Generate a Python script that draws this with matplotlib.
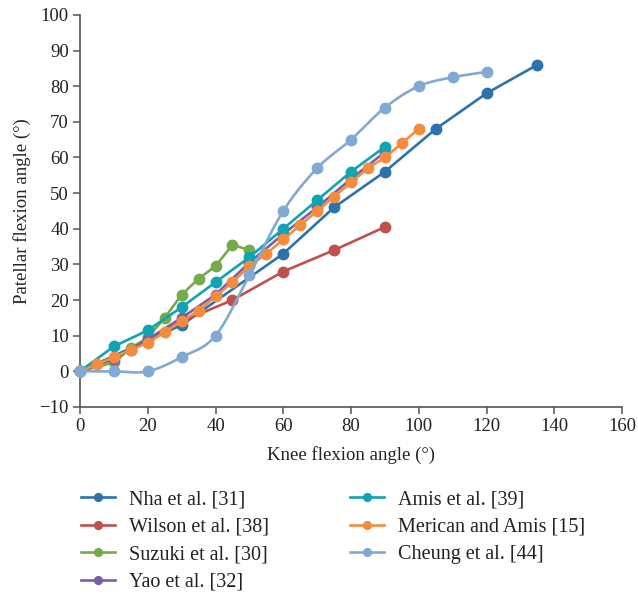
import numpy as np
import matplotlib.pyplot as plt

plt.rcParams['font.family'] = ['Liberation Serif', 'DejaVu Serif']

# knee flexion (deg) vs patellar flexion (deg), per study
nha_x = [0, 30, 60, 75, 90, 105, 120, 135]
nha_y = [0, 13, 33, 46, 56, 68, 78, 86]

wilson_x = [0, 15, 30, 45, 60, 75, 90]
wilson_y = [0, 6, 14, 20, 28, 34, 40.5]

suzuki_x = [0, 10, 15, 20, 25, 30, 35, 40, 45, 50]
suzuki_y = [0, 2.5, 6.5, 9.5, 15, 21.5, 26, 29.5, 35.5, 34]

yao_x = [0, 10, 20, 30, 40, 50, 60, 70, 80, 90]
yao_y = [0, 3.5, 9, 15, 21.5, 30.5, 38.5, 46, 54, 61.5]

amis_x = [0, 10, 20, 30, 40, 50, 60, 70, 80, 90]
amis_y = [0, 7, 11.5, 18, 25, 32, 40, 48, 56, 63]

merican_x = [0, 5, 10, 15, 20, 25, 30, 35, 40, 45, 50, 55, 60, 65, 70, 75, 80, 85, 90, 95, 100]
merican_y = [0, 2, 4, 6, 8, 11, 14, 17, 21, 25, 29.5, 33, 37, 41, 45, 49, 53, 57, 60, 64, 68]

cheung_x = [0, 10, 20, 30, 40, 50, 60, 70, 80, 90, 100, 110, 120]
cheung_y = [0, 0, 0, 4, 10, 27, 45, 57, 65, 74, 80, 82.5, 84]

labels = ["Nha et al. [31]", "Wilson et al. [38]", "Suzuki et al. [30]", "Yao et al. [32]",
          "Amis et al. [39]", "Merican and Amis [15]", "Cheung et al. [44]"]
colors = ["#2c72ad", "#c0504d", "#74ab4b", "#7b5fa5", "#10a3b3", "#f58b3e", "#80a9d3"]


def smooth(x, y, n=20):
    # Catmull-Rom curve through the points (like a spreadsheet "smoothed line")
    p = np.column_stack([x, y]).astype(float)
    p = np.vstack([p[0], p, p[-1]])
    out = []
    t = np.linspace(0, 1, n, endpoint=False)[:, None]
    for i in range(1, len(p) - 2):
        p0, p1, p2, p3 = p[i - 1], p[i], p[i + 1], p[i + 2]
        m1 = (p2 - p0) / 2
        m2 = (p3 - p1) / 2
        h00 = 2 * t**3 - 3 * t**2 + 1
        h10 = t**3 - 2 * t**2 + t
        h01 = -2 * t**3 + 3 * t**2
        h11 = t**3 - t**2
        out.append(h00 * p1 + h10 * m1 + h01 * p2 + h11 * m2)
    out.append(p[-2][None, :])
    out = np.vstack(out)
    return out[:, 0], out[:, 1]


series = [(nha_x, nha_y), (wilson_x, wilson_y), (suzuki_x, suzuki_y), (yao_x, yao_y),
          (amis_x, amis_y), (merican_x, merican_y), (cheung_x, cheung_y)]

fig = plt.figure(figsize=(6.38, 5.95), dpi=100)
ax = fig.add_axes([0.1254, 0.316, 0.8496, 0.659])

for i, ((x, y), lab, c) in enumerate(zip(series, labels, colors)):
    if lab.startswith("Cheung"):
        sx, sy = smooth(x, y)
        ax.plot(sx, sy, color=c, lw=1.9, zorder=2 + i, clip_on=False)
        ax.plot(x, y, 'o', color=c, ms=7.5, zorder=2 + i, clip_on=False)
        ax.plot([], [], '-o', color=c, lw=1.9, ms=7.5, label=lab)
    else:
        ax.plot(x, y, '-o', color=c, lw=1.9, ms=7.5, label=lab, zorder=2 + i, clip_on=False)

ax.set_xlim(0, 160)
ax.set_ylim(-10, 100)
ax.set_xticks(np.arange(0, 161, 20))
ax.set_yticks(np.arange(-10, 101, 10))
ax.set_yticklabels([str(v).replace('-', '\u2212') for v in range(-10, 101, 10)])
for s in ['top', 'right']:
    ax.spines[s].set_visible(False)
for s in ['left', 'bottom']:
    ax.spines[s].set_color('#555555')
    ax.spines[s].set_linewidth(1.2)
ax.tick_params(direction='out', length=5, width=1.1, color='#555555',
               labelsize=13.5, labelcolor='#222222', pad=3)

ax.set_xlabel("Knee flexion angle (°)", fontsize=13.5, color='#222222', labelpad=8)
ax.set_ylabel("Patellar flexion angle (°)", fontsize=13.5, color='#222222', labelpad=6)

fig.legend(loc='upper left', bbox_to_anchor=(0.098, 0.207), ncol=2, frameon=False,
           fontsize=14.5, handlelength=1.7, handletextpad=0.7, columnspacing=4.0,
           labelspacing=0.42, markerscale=0.75, labelcolor='#222222')

fig.savefig("out.png", dpi=100)
